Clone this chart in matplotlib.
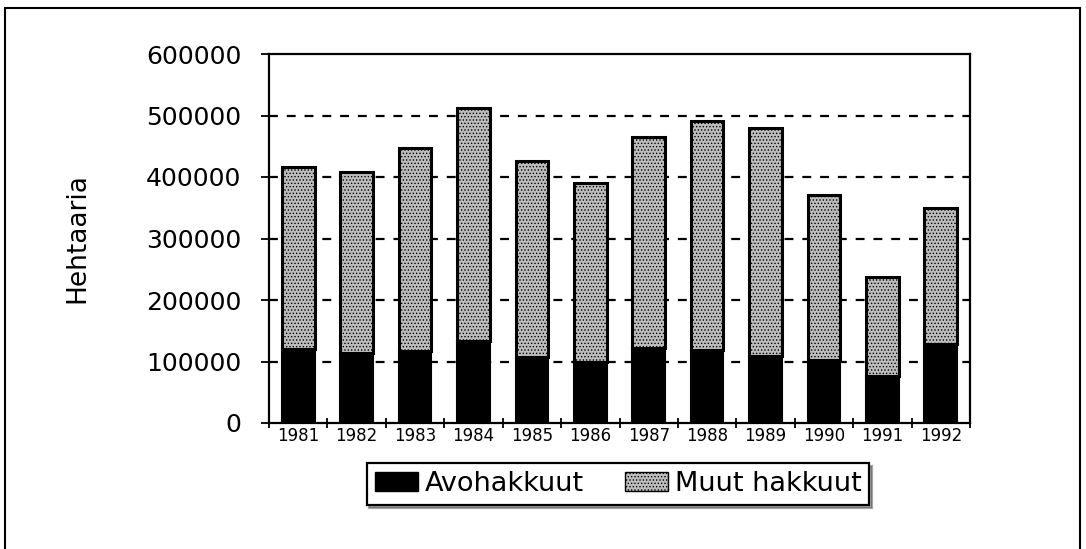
import matplotlib
matplotlib.use("Agg")
import matplotlib.pyplot as plt
from matplotlib.patches import Rectangle, Patch
import numpy as np

years = ["1981", "1982", "1983", "1984", "1985", "1986", "1987", "1988", "1989", "1990", "1991", "1992"]
avohakkuut = [121000, 114000, 117000, 133500, 107500, 98400, 122700, 118400, 108600, 103200, 76200, 129200]
totals = [416700, 407500, 446500, 513000, 426500, 389700, 464300, 491300, 478900, 371300, 237300, 349700]
muut = [t - a for t, a in zip(totals, avohakkuut)]
yticks = [0, 100000, 200000, 300000, 400000, 500000, 600000]

plt.rcParams['font.family'] = ['DejaVu Sans']
plt.rcParams['hatch.linewidth'] = 0.6

W, H = 1086, 549
fig = plt.figure(figsize=(W / 100, H / 100), dpi=100)
ax = fig.add_axes([269 / W, 1 - 423 / H, (970 - 269) / W, (423 - 54) / H])

x = np.arange(len(years))
bw = 0.56
ax.bar(x, avohakkuut, bw, color='black', edgecolor='black', linewidth=1.5, zorder=3)
ax.bar(x, muut, bw, bottom=avohakkuut, color='#bdbdbd', edgecolor='black',
       linewidth=2.2, hatch='.....', zorder=3)
ax.set_xlim(-0.5, len(years) - 0.5)
ax.set_ylim(0, 600000)

ax.set_yticks(yticks)
ax.set_yticklabels([str(v) for v in yticks], fontsize=18)
ax.set_xticks(x)
ax.set_xticklabels(years, fontsize=12)
ax.set_xticks(np.arange(len(years) + 1) - 0.5, minor=True)
ax.tick_params(axis='x', which='major', length=0, pad=3)
ax.tick_params(axis='x', which='minor', direction='inout', length=7, width=1.3)
ax.tick_params(axis='y', which='major', direction='inout', length=12, width=1.3, pad=14)

for v in yticks[1:-1]:
    ax.axhline(v, color='black', linestyle=(0, (4, 4)), linewidth=1.6, zorder=1)

for s in ax.spines.values():
    s.set_linewidth(1.6)

ax.set_ylabel("Hehtaaria", fontsize=19, labelpad=40)

handles = [Patch(facecolor='black', edgecolor='black', label='Avohakkuut'),
           Patch(facecolor='#bdbdbd', edgecolor='black', hatch='.....', label='Muut hakkuut')]
leg = fig.legend(handles=handles, loc='center', bbox_to_anchor=(618 / W, 1 - 484 / H),
                 ncol=2, fontsize=19.5, frameon=True, fancybox=False, shadow=True,
                 handlelength=1.6, handleheight=0.7, handletextpad=0.25,
                 columnspacing=1.5, borderpad=0.3, borderaxespad=0)
leg.get_frame().set_edgecolor('black')
leg.get_frame().set_linewidth(1.6)

fig.add_artist(Rectangle((5 / W, -0.1), (1080 - 5) / W, 1.1 - 8 / H,
                         transform=fig.transFigure, fill=False, edgecolor='black', linewidth=1.5))

fig.savefig("out.png", dpi=100)
